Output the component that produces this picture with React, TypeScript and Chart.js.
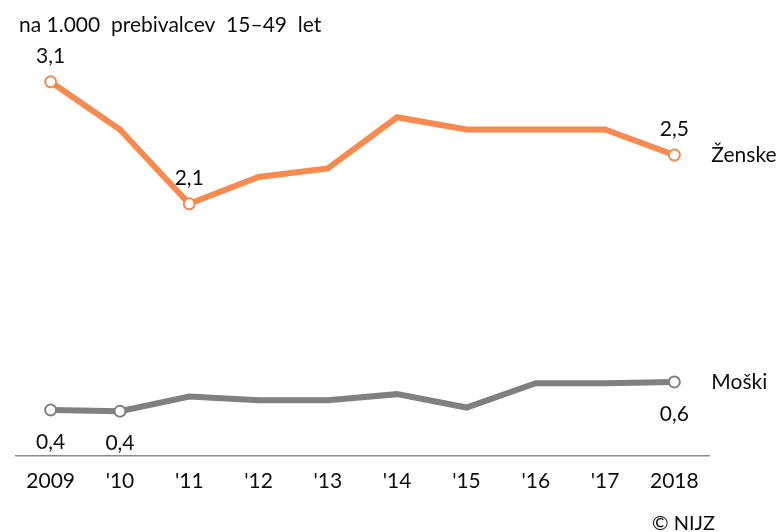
import React, { useEffect, useRef } from "react";
import { Chart, registerables } from "chart.js";

Chart.register(...registerables);

const categories = ["2009", "'10", "'11", "'12", "'13", "'14", "'15", "'16", "'17", "2018"];
const zenske = [3.1, 2.71, 2.1, 2.32, 2.39, 2.81, 2.71, 2.71, 2.71, 2.5];
const moski = [0.41, 0.4, 0.52, 0.49, 0.49, 0.54, 0.43, 0.63, 0.63, 0.64];
const zenskeLabelIdx = [0, 2, 9];
const moskiLabelIdx = [0, 1, 9];
const seriesNames = ["Ženske", "Moški"];
const unitTitle = "na 1.000  prebivalcev  15–49  let";
const credit = "© NIJZ";

const ORANGE = "#F68A4F";
const GRAY = "#808080";
const FONT = "Lato, 'Noto Sans', sans-serif";
const TEXT = "#0d0d0d";
const FS = 21;

const fmt = (v: number) => (Math.round(v * 10) / 10).toFixed(1).replace(".", ",");

const radii = (idx: number[], n: number) => Array.from({ length: n }, (_, i) => (idx.includes(i) ? 5.5 : 0));

const annotPlugin = {
  id: "annot",
  afterDatasetsDraw(chart: any) {
    const ctx = chart.ctx;
    ctx.save();
    ctx.fillStyle = TEXT;
    ctx.font = `${FS}px ${FONT}`;
    ctx.textAlign = "left";
    ctx.textBaseline = "alphabetic";
    ctx.fillText(unitTitle, 19, 32);
    const cfg = [
      { ds: 0, idx: zenskeLabelIdx, off: -26 },
      { ds: 1, idx: moskiLabelIdx, off: 32 },
    ];
    cfg.forEach((c) => {
      const meta = chart.getDatasetMeta(c.ds);
      const data = chart.data.datasets[c.ds].data as number[];
      ctx.textAlign = "center";
      ctx.textBaseline = "middle";
      c.idx.forEach((i) => {
        const p = meta.data[i];
        ctx.fillText(fmt(data[i]), p.x, p.y + c.off);
      });
      const last = meta.data[meta.data.length - 1];
      ctx.textAlign = "left";
      ctx.textBaseline = "alphabetic";
      ctx.fillText(seriesNames[c.ds], last.x + 37, last.y + 7);
    });
    ctx.textAlign = "left";
    ctx.textBaseline = "alphabetic";
    ctx.font = `20px ${FONT}`;
    ctx.fillText(credit, 652, 530);
    ctx.restore();
  },
};

export default function App() {
  const ref = useRef<HTMLCanvasElement>(null);
  useEffect(() => {
    if (!ref.current) return;
    const chart = new Chart(ref.current, {
      type: "line",
      data: {
        labels: categories,
        datasets: [
          {
            label: seriesNames[0],
            data: zenske,
            borderColor: ORANGE,
            borderWidth: 6,
            pointRadius: radii(zenskeLabelIdx, zenske.length),
            pointBackgroundColor: "#ffffff",
            pointBorderColor: ORANGE,
            pointBorderWidth: 2,
            tension: 0,
            clip: false as any,
          },
          {
            label: seriesNames[1],
            data: moski,
            borderColor: GRAY,
            borderWidth: 6,
            pointRadius: radii(moskiLabelIdx, moski.length),
            pointBackgroundColor: "#ffffff",
            pointBorderColor: GRAY,
            pointBorderWidth: 2,
            tension: 0,
            clip: false as any,
          },
        ],
      },
      options: {
        animation: false,
        responsive: false,
        devicePixelRatio: 1,
        layout: { padding: { left: 16, right: 74, top: 40, bottom: 0 } },
        plugins: { legend: { display: false }, tooltip: { enabled: false }, title: { display: false } },
        scales: {
          x: {
            offset: true,
            grid: { display: false, drawTicks: false },
            border: { display: true, color: "#8c8c8c", width: 1.5 },
            ticks: { color: TEXT, font: { family: FONT, size: FS }, padding: 13, maxRotation: 0, autoSkip: false },
            afterFit: (scale: any) => {
              scale.height = 76;
            },
          },
          y: {
            display: false,
            min: 0.033,
            max: 3.443,
          },
        },
      },
      plugins: [annotPlugin],
    });
    return () => chart.destroy();
  }, []);
  return (
    <div style={{ position: "fixed", left: 0, top: 0, width: 783, height: 532, background: "#fff" }}>
      <canvas ref={ref} width={783} height={532} style={{ width: 783, height: 532 }} />
    </div>
  );
}
